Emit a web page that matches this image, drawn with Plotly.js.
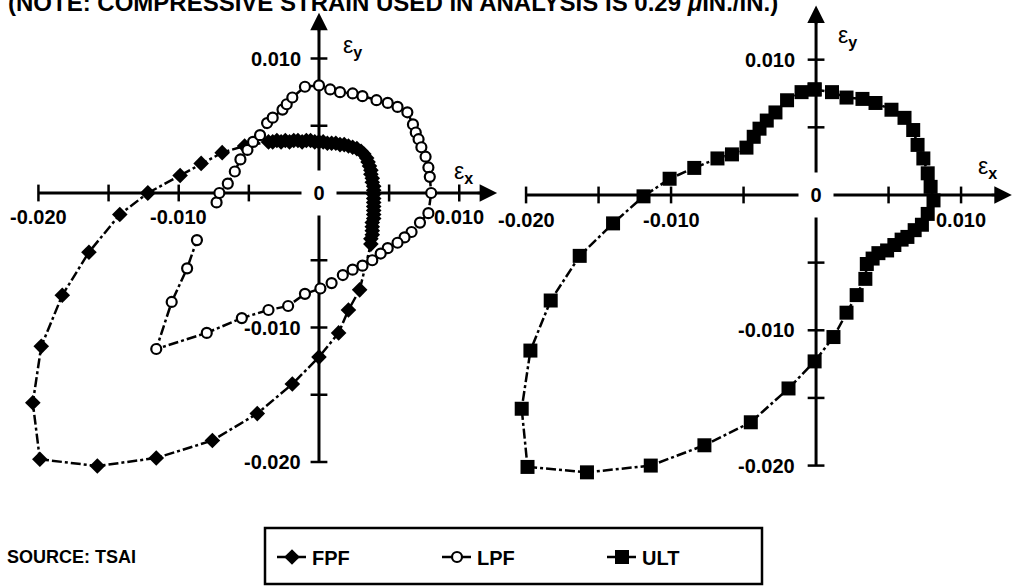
<!DOCTYPE html>
<html><head><meta charset="utf-8">
<script src="https://cdn.plot.ly/plotly-3.0.1.min.js"></script>
<style>html,body{margin:0;padding:0;background:#fff}#chart{width:1015px;height:586px}</style>
</head><body><div id="chart"></div>
<script>
// ---- data: strain values (in./in.) ----
const fpfX = [-0.0122,-0.0099,-0.0084,-0.0069,-0.0053,-0.0036,-0.0033,-0.0030,-0.0027,-0.0024,-0.0021,-0.0018,-0.0015,-0.0012,-0.0009,-0.0006,-0.0003,0.0000,0.0003,0.0006,0.0009,0.0012,0.0015,0.0018,0.0021,0.0024,0.0027,0.0030,0.0032,0.0034,0.0035,0.0036,0.0037,0.0037,0.0038,0.0038,0.0039,0.0039,0.0039,0.0039,0.0039,0.0039,0.0039,0.0039,0.0039,0.0038,0.0038,0.0038,0.0038,0.0037,0.0037,0.0029,0.0021,0.0014,0.0000,-0.0019,-0.0044,-0.0076,-0.0116,-0.0158,-0.0199,-0.0204,-0.0198,-0.0183,-0.0164,-0.0142,-0.0122];
const fpfY = [0.0000,0.0013,0.0022,0.0030,0.0035,0.0038,0.0038,0.0039,0.0038,0.0039,0.0038,0.0039,0.0039,0.0038,0.0039,0.0039,0.0038,0.0038,0.0038,0.0037,0.0037,0.0037,0.0036,0.0036,0.0035,0.0034,0.0033,0.0031,0.0029,0.0026,0.0023,0.0020,0.0017,0.0014,0.0011,0.0008,0.0005,0.0002,-0.0001,-0.0004,-0.0007,-0.0010,-0.0013,-0.0016,-0.0019,-0.0022,-0.0025,-0.0028,-0.0031,-0.0034,-0.0038,-0.0072,-0.0087,-0.0104,-0.0122,-0.0142,-0.0164,-0.0184,-0.0197,-0.0203,-0.0198,-0.0156,-0.0114,-0.0076,-0.0044,-0.0016,0.0000];

const lpfX = [-0.0073,-0.0071,-0.0065,-0.0060,-0.0056,-0.0051,-0.0047,-0.0042,-0.0037,-0.0033,-0.0026,-0.0023,-0.0019,-0.0010,0.0000,0.0008,0.0015,0.0024,0.0031,0.0041,0.0049,0.0056,0.0063,0.0067,0.0069,0.0071,0.0073,0.0076,0.0078,0.0079,0.0080,0.0078,0.0072,0.0066,0.0061,0.0056,0.0049,0.0044,0.0038,0.0031,0.0024,0.0017,0.0009,0.0001,-0.0010,-0.0022,-0.0036,-0.0055,-0.0080,-0.0116,-0.0105,-0.0094,-0.0087];
const lpfY = [-0.0007,0.0000,0.0007,0.0016,0.0025,0.0032,0.0038,0.0043,0.0052,0.0056,0.0062,0.0066,0.0071,0.0079,0.0080,0.0077,0.0075,0.0074,0.0072,0.0069,0.0067,0.0064,0.0060,0.0051,0.0045,0.0040,0.0034,0.0027,0.0019,0.0012,0.0000,-0.0015,-0.0022,-0.0029,-0.0033,-0.0037,-0.0041,-0.0045,-0.0050,-0.0054,-0.0057,-0.0061,-0.0067,-0.0071,-0.0075,-0.0084,-0.0087,-0.0093,-0.0104,-0.0116,-0.0081,-0.0056,-0.0035];

const ultX = [-0.0001,0.0011,0.0021,0.0032,0.0041,0.0052,0.0061,0.0067,0.0070,0.0074,0.0077,0.0079,0.0081,0.0077,0.0073,0.0068,0.0063,0.0059,0.0054,0.0049,0.0043,0.0039,0.0035,0.0034,0.0028,0.0021,0.0012,-0.0001,-0.0019,-0.0045,-0.0077,-0.0114,-0.0158,-0.0199,-0.0203,-0.0197,-0.0183,-0.0163,-0.0140,-0.0119,-0.0101,-0.0084,-0.0068,-0.0058,-0.0048,-0.0043,-0.0039,-0.0034,-0.0028,-0.0020,-0.0010,-0.0001];
const ultY = [0.0078,0.0076,0.0072,0.0071,0.0068,0.0063,0.0057,0.0048,0.0037,0.0027,0.0016,0.0006,-0.0004,-0.0014,-0.0022,-0.0026,-0.0031,-0.0033,-0.0037,-0.0041,-0.0043,-0.0047,-0.0051,-0.0062,-0.0074,-0.0087,-0.0105,-0.0123,-0.0143,-0.0168,-0.0185,-0.0200,-0.0205,-0.0201,-0.0158,-0.0115,-0.0078,-0.0045,-0.0021,-0.0001,0.0012,0.0020,0.0027,0.0030,0.0035,0.0043,0.0049,0.0055,0.0061,0.0070,0.0076,0.0078];

const xTicks = [-0.020,-0.015,-0.010,-0.005,0.005,0.010];
const yTicks = [0.010,0.005,-0.005,-0.010,-0.015,-0.020];
const xTickLabelVals = [-0.020,-0.010,0.010];
const xTickLabels = ['-0.020','-0.010','0.010'];
const yTickLabelVals = [0.010,-0.010,-0.020];
const yTickLabels = ['0.010','-0.010','-0.020'];
const seriesNames = ['FPF','LPF','ULT'];
const titleText = '(NOTE: COMPRESSIVE STRAIN USED IN ANALYSIS IS 0.29 <i>μ</i>IN./IN.)';
const sourceText = 'SOURCE: TSAI';

// ---- styling / layout ----
const FONT = 'Liberation Sans, Arial, Helvetica, sans-serif';
const lbl = {family: FONT, size: 20, color: '#000', weight: 'bold'};
const dashStyle = '10px,3px,3px,3px';
const W = 1015, H = 586;

const panels = [
  {xa:'x', ya:'y', xtip:0.0127, ytip:0.0134, xs:-24, ys:-16, ex:[0.0103,0.0015], ey:[0.0024,0.0109]},
  {xa:'x2', ya:'y2', xtip:0.0135, ytip:0.0140, xs:-25, ys:-19, ex:[0.0118,0.0020], ey:[0.0022,0.0117]}
];

const traces = [];
const shapes = [];
const annotations = [];

panels.forEach(p => {
  traces.push({x: xTicks, y: xTicks.map(() => 0), xaxis: p.xa, yaxis: p.ya, mode: 'markers', showlegend: false, hoverinfo: 'skip',
    marker: {symbol: 'line-ns-open', size: 12, color: '#000', line: {width: 2.5, color: '#000'}}});
  traces.push({x: yTicks.map(() => 0), y: yTicks, xaxis: p.xa, yaxis: p.ya, mode: 'markers', showlegend: false, hoverinfo: 'skip',
    marker: {symbol: 'line-ew-open', size: 12, color: '#000', line: {width: 2.5, color: '#000'}}});
  shapes.push({type:'line', xref:p.xa, yref:p.ya, x0:-0.020, x1:p.xtip-0.0006, y0:0, y1:0, layer:'below', line:{color:'#000', width:3}});
  shapes.push({type:'line', xref:p.xa, yref:p.ya, x0:0, x1:0, y0:-0.020, y1:p.ytip-0.0006, layer:'below', line:{color:'#000', width:3}});
  annotations.push({xref:p.xa, yref:p.ya, axref:p.xa, ayref:p.ya, x:p.xtip, y:0, ax:p.xtip-0.0015, ay:0, text:'', showarrow:true, arrowhead:2, arrowsize:1.4, arrowwidth:2.5, arrowcolor:'#000'});
  annotations.push({xref:p.xa, yref:p.ya, axref:p.xa, ayref:p.ya, x:0, y:p.ytip, ax:0, ay:p.ytip-0.0015, text:'', showarrow:true, arrowhead:2, arrowsize:1.4, arrowwidth:2.5, arrowcolor:'#000'});
  xTickLabelVals.forEach((v, i) => annotations.push({xref:p.xa, yref:p.ya, x:v, y:0, yshift:p.xs, text:xTickLabels[i], showarrow:false, font:lbl}));
  yTickLabelVals.forEach((v, i) => annotations.push({xref:p.xa, yref:p.ya, x:0, y:v, xanchor:'right', xshift:p.ys, text:yTickLabels[i], showarrow:false, font:lbl}));
  annotations.push({xref:p.xa, yref:p.ya, x:0, y:0, text:'0', showarrow:false, bgcolor:'#fff', width:32, height:42, font:lbl});
  annotations.push({xref:p.xa, yref:p.ya, x:p.ex[0], y:p.ex[1], text:'ε<sub><b>x</b></sub>', showarrow:false, font:{family:FONT, size:23, color:'#000'}});
  annotations.push({xref:p.xa, yref:p.ya, x:p.ey[0], y:p.ey[1], text:'ε<sub><b>y</b></sub>', showarrow:false, font:{family:FONT, size:23, color:'#000'}});
});

const lineStyle = {color:'#000', width:2.5, dash:dashStyle};
traces.push({name: seriesNames[0], x: fpfX, y: fpfY, xaxis:'x', yaxis:'y', mode:'lines+markers', line: lineStyle,
  marker:{symbol:'diamond', size:12, color:'#000'}});
traces.push({name: seriesNames[1], x: lpfX, y: lpfY, xaxis:'x', yaxis:'y', mode:'lines+markers', line: lineStyle,
  marker:{symbol:'circle', size:10, color:'#fff', line:{color:'#000', width:2.2}}});
traces.push({name: seriesNames[2], x: ultX, y: ultY, xaxis:'x2', yaxis:'y2', mode:'lines+markers', line: lineStyle,
  marker:{symbol:'square', size:14, color:'#000'}});

annotations.push({xref:'paper', yref:'paper', x:6/W, y:1, xanchor:'left', yanchor:'middle', yshift:-2, text:titleText, showarrow:false,
  font:{family:FONT, size:24, color:'#000', weight:'bold'}});
annotations.push({xref:'paper', yref:'paper', x:5/W, y:1-557/H, xanchor:'left', yanchor:'middle', text:sourceText, showarrow:false,
  font:{family:FONT, size:18, color:'#000', weight:'bold'}});

shapes.push({type:'rect', xref:'paper', yref:'paper', x0:265/W, x1:762/W, y0:1-584/H, y1:1-528/H, line:{color:'#000', width:2.5}});

const hidden = {visible:false, showgrid:false, zeroline:false, fixedrange:true};
const layout = {
  width: W, height: H,
  margin: {l:0, r:0, t:0, b:0, pad:0},
  paper_bgcolor:'#fff', plot_bgcolor:'#fff',
  xaxis: Object.assign({}, hidden, {domain:[0, 0.5], range:[-0.02274, 0.01344]}),
  yaxis: Object.assign({}, hidden, {domain:[0, 1], range:[-0.02922, 0.01435]}),
  xaxis2: Object.assign({}, hidden, {domain:[0.5, 1], range:[-0.02128, 0.01372], anchor:'y2'}),
  yaxis2: Object.assign({}, hidden, {domain:[0, 1], range:[-0.02890, 0.01441], anchor:'x2'}),
  showlegend: true,
  legend: {orientation:'h', x:272/W, xanchor:'left', y:1-557/H, yanchor:'middle', bgcolor:'rgba(0,0,0,0)', borderwidth:0,
    font:{family:FONT, size:20, color:'#000', weight:'bold'}, itemwidth:30, entrywidth:120, entrywidthmode:'pixels', traceorder:'normal'},
  shapes: shapes,
  annotations: annotations
};

Plotly.newPlot('chart', traces, layout, {staticPlot:true, displayModeBar:false});
</script>
</body></html>
